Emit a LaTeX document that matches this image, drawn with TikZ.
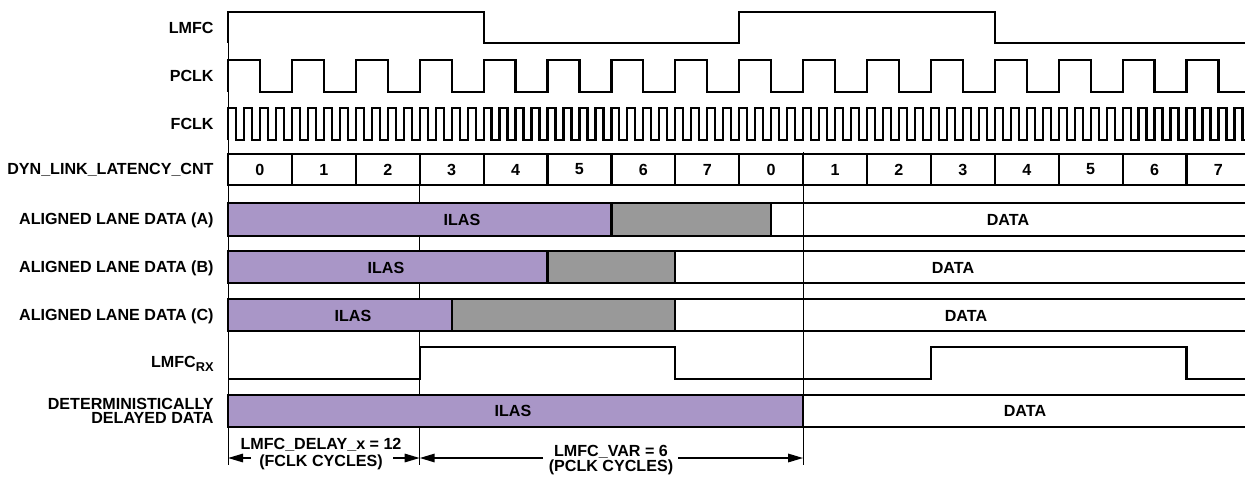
\documentclass[tikz,border=0pt]{standalone}
\usepackage{fontspec}
\setmainfont{Liberation Sans}
\usetikzlibrary{arrows.meta}
\definecolor{ilas}{RGB}{169,150,199}
\definecolor{fill2}{RGB}{153,153,153}
\begin{document}
\begin{tikzpicture}[x=0.5pt,y=-0.5pt,
  font=\fontsize{8.05}{9}\selectfont\bfseries,
  sig/.style={line width=1.1pt, line join=miter},
  thin/.style={line width=0.5pt},
  box/.style={line width=1.1pt},
  lbl/.style={anchor=east, inner sep=0pt, align=right},
  txt/.style={inner sep=0pt},
  cell/.style={draw, line width=1.1pt, minimum width=31.95pt, minimum height=15.5pt, inner sep=0pt},
  dim/.style={line width=0.9pt, -{Triangle[length=7.5pt,width=4.2pt]}}]
\useasboundingbox (0,0) rectangle (1245,476);
\clip (0,0) rectangle (1245,476);
% reference lines
\draw[thin] (228,12) -- (228,465);
\draw[thin] (419.7,154) -- (419.7,465);
\draw[thin] (803.1,152) -- (803.1,465);
% labels
\node[lbl] (lLMFC) at (214,28) {LMFC};
\node[lbl] (lPCLK) at (214,76) {PCLK};
\node[lbl] (lFCLK) at (214,124) {FCLK};
\node[lbl] (lCNT) at (214,170) {DYN\_LINK\_LATENCY\_CNT};
\node[lbl] (lA) at (214,220) {ALIGNED LANE DATA (A)};
\node[lbl] (lB) at (214,268) {ALIGNED LANE DATA (B)};
\node[lbl] (lC) at (214,316) {ALIGNED LANE DATA (C)};
\node[lbl] (lRX) at (214,364) {LMFC\raisebox{-0.45ex}{\fontsize{6.4}{7}\selectfont RX}};
\node[lbl, align=right] (lDD) at (214,411) {DETERMINISTICALLY\\[-1.8pt]DELAYED DATA};
% LMFC
\draw[sig] (228,43) -- (228,12) -- (483.6,12) -- (483.6,43) -- (739.2,43) -- (739.2,12) -- (994.8,12) -- (994.8,43) -- (1260,43);
% PCLK
\draw[sig] (228,92) \foreach \i in {0,...,16} { -- ++(0,-32) -- ++(31.95,0) -- ++(0,32) -- ++(31.95,0) };
% FCLK
\draw[sig] (228,140) \foreach \i in {0,...,64} { -- ++(0,-32) -- ++(7.9875,0) -- ++(0,32) -- ++(7.9875,0) };
% counter
\foreach \i/\t in {0/0,1/1,2/2,3/3,4/4,5/5,6/6,7/7,8/0,9/1,10/2,11/3,12/4,13/5,14/6,15/7}
  \node[cell] (cnt\i) at ({228+(\i+0.5)*63.9},169.5) {\t};
% row A
\filldraw[box, fill=ilas] (228,203) rectangle (611.4,236);
\filldraw[box, fill=fill2] (611.4,203) rectangle (771.15,236);
\draw[box] (771.15,203) -- (1260,203) (771.15,236) -- (1260,236);
\node[txt] (aI) at (462,220) {ILAS};
\node[txt] (aD) at (1008,220) {DATA};
% row B
\filldraw[box, fill=ilas] (228,251) rectangle (547.5,283);
\filldraw[box, fill=fill2] (547.5,251) rectangle (675.3,283);
\draw[box] (675.3,251) -- (1260,251) (675.3,283) -- (1260,283);
\node[txt] (bI) at (386,268) {ILAS};
\node[txt] (bD) at (953,268) {DATA};
% row C
\filldraw[box, fill=ilas] (228,299) rectangle (451.65,331);
\filldraw[box, fill=fill2] (451.65,299) rectangle (675.3,331);
\draw[box] (675.3,299) -- (1260,299) (675.3,331) -- (1260,331);
\node[txt] (cI) at (353,316) {ILAS};
\node[txt] (cD) at (966,316) {DATA};
% LMFC_RX
\draw[sig] (228,379) -- (419.7,379) -- (419.7,347) -- (675.3,347) -- (675.3,379) -- (930.9,379) -- (930.9,347) -- (1186.5,347) -- (1186.5,379) -- (1260,379);
% deterministically delayed data
\filldraw[box, fill=ilas] (228,395) rectangle (803.1,427);
\draw[box] (803.1,395) -- (1260,395) (803.1,427) -- (1260,427);
\node[txt] (dI) at (513,411) {ILAS};
\node[txt] (dD) at (1025,411) {DATA};
% dimension annotations
\node[txt] (dly1) at (321,445) {LMFC\_DELAY\_x = 12};
\node[txt] (dly2) at (321,462) {(FCLK CYCLES)};
\node[txt] (var1) at (611,452) {LMFC\_VAR = 6};
\node[txt] (var2) at (611,467) {(PCLK CYCLES)};
\coordinate (r0) at (228,458);
\coordinate (r3) at (419.7,458);
\coordinate (r9) at (803.1,458);
\coordinate (dl) at (251,458);
\coordinate (dr) at (393,458);
\coordinate (vl) at (543,458);
\coordinate (vr) at (678,458);
\draw[dim] (dl) -- (r0);
\draw[dim] (dr) -- (r3);
\draw[dim] (vl) -- (r3);
\draw[dim] (vr) -- (r9);
\end{tikzpicture}
\end{document}
